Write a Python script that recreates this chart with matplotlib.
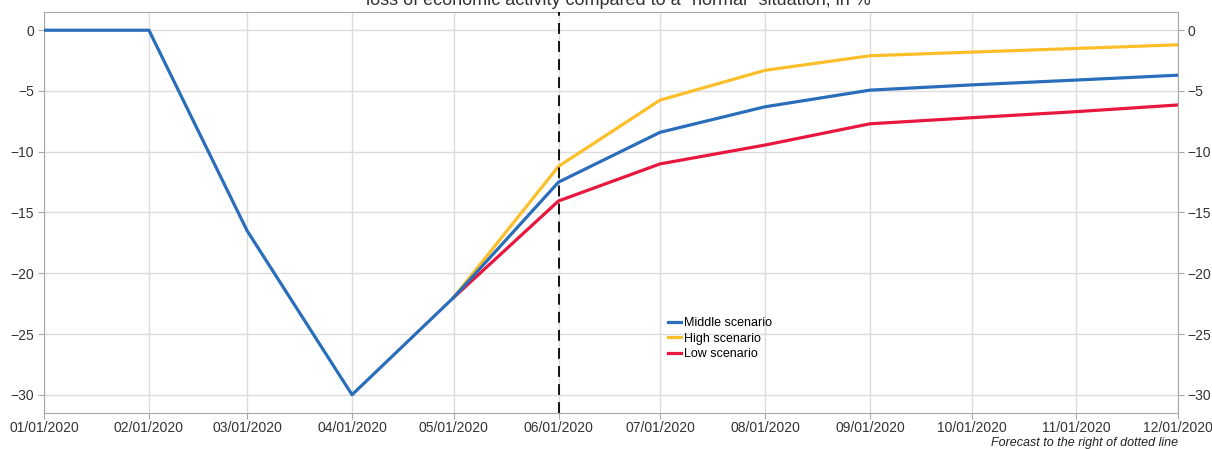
import matplotlib as mpl
mpl.use('Agg')
import matplotlib.pyplot as plt
import matplotlib.dates as mdates
import numpy as np

plt.rcParams['font.family'] = ['Liberation Sans', 'DejaVu Sans']

# data (monthly, first of month)
months = np.array(['2020-01-01', '2020-02-01', '2020-03-01', '2020-04-01', '2020-05-01',
                   '2020-06-01', '2020-07-01', '2020-08-01', '2020-09-01', '2020-10-01',
                   '2020-11-01', '2020-12-01'], dtype='datetime64[D]')
middle = [0, 0, -16.5, -30, -22, -12.5, -8.4, -6.3, -4.93, -4.5, -4.1, -3.7]
high = [-22, -11.2, -5.75, -3.3, -2.1, -1.8, -1.5, -1.2]   # from May
low = [-22, -14.05, -11.0, -9.45, -7.7, -7.2, -6.7, -6.15]  # from May
forecast_start = np.datetime64('2020-06-01')

BLUE = '#2a6ebb'
YELLOW = '#fcbf2a'
RED = '#e8173f'
GRAY = '#a8a8a8'

fig = plt.figure(figsize=(12.12, 4.49), dpi=100)
ax = fig.add_axes([44/1212, 1 - 413/449, 1134/1212, 401/449])

ax.plot(months, middle, color=BLUE, lw=2.3, label='Middle scenario', zorder=4)
ax.plot(months[4:], high, color=YELLOW, lw=2.3, label='High scenario', zorder=3)
ax.plot(months[4:], low, color=RED, lw=2.3, label='Low scenario', zorder=3)

ax.axvline(forecast_start, color='black', lw=1.3, linestyle=(0, (6, 4)), zorder=5)

ax.set_xlim(months[0], months[-1])
ax.set_ylim(-31.5, 1.5)
ax.set_yticks(np.arange(-30, 1, 5))
ax.set_yticklabels([('\u2212' + str(-v)) if v < 0 else str(v) for v in range(-30, 1, 5)])
ax.set_xticks(months)
ax.xaxis.set_major_formatter(mdates.DateFormatter('%m/%d/%Y'))

ax.grid(True, color='#dcdcdc', lw=1)
ax.set_axisbelow(True)
for s in ax.spines.values():
    s.set_color(GRAY)
ax.tick_params(axis='both', colors=GRAY, labelcolor='#333333', labelsize=10, length=4)
ax.tick_params(axis='x', pad=2)
ax.tick_params(axis='y', right=True, labelright=True, pad=3)

leg = ax.legend(loc='upper left', bbox_to_anchor=(0.546, 0.252), frameon=False,
                fontsize=9, handlelength=1.0, handletextpad=0.3, labelspacing=0.3,
                borderaxespad=0)

fig.text(618/1212, 1 - 5/449, 'loss of economic activity compared to a "normal" situation, in %',
         ha='center', va='baseline', fontsize=13, color='#333333')
fig.text(1178/1212, 1 - 446/449, 'Forecast to the right of dotted line',
         ha='right', va='baseline', fontsize=9, style='italic', color='#222222')

fig.savefig('out.png', dpi=100)
